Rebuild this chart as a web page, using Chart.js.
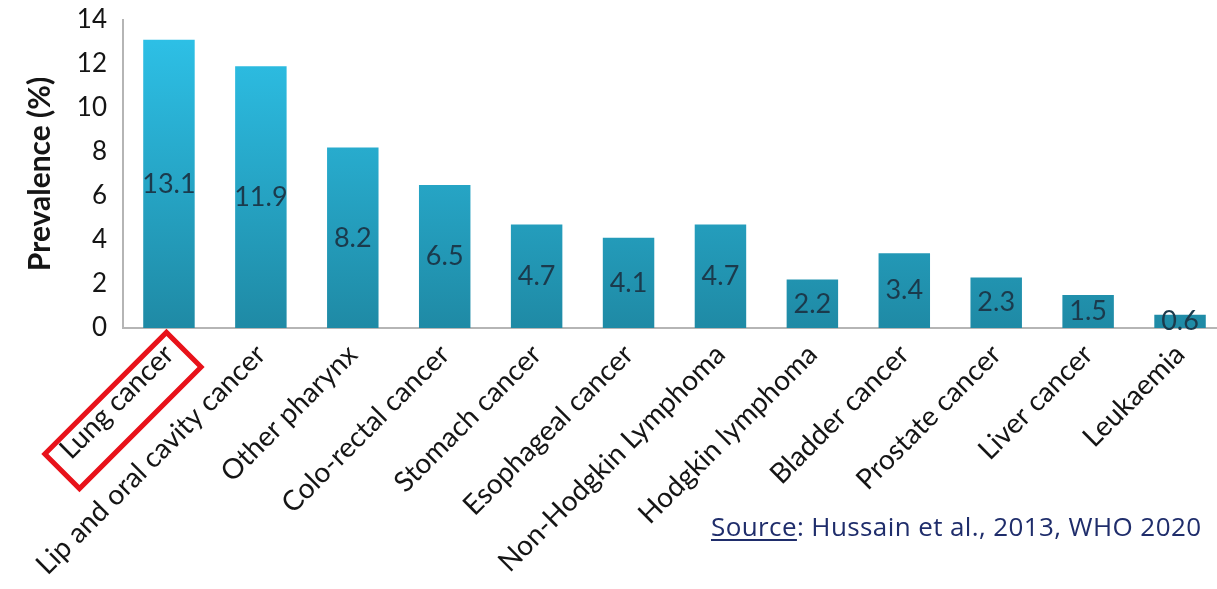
<!DOCTYPE html>
<html>
<head>
<meta charset="utf-8">
<script src="https://cdn.jsdelivr.net/npm/chart.js@4.4.1/dist/chart.umd.min.js"></script>
<style>
html,body{margin:0;padding:0;background:#fff;overflow:hidden;width:1217px;height:589px;}
#wrap{position:absolute;left:0;top:0;width:1226px;height:589px;}
#src{position:absolute;left:711px;top:508px;font-family:"Open Sans",sans-serif;font-size:26px;letter-spacing:0.4px;color:#1f2d6b;white-space:nowrap;}
#src u{text-decoration-thickness:1.5px;text-underline-offset:3px;}
</style>
</head>
<body>
<div id="wrap"><canvas id="c" width="1226" height="589"></canvas></div>
<div id="src"><u>Source</u>: Hussain et al., 2013, WHO 2020</div>
<script>
const categories = ["Lung cancer","Lip and oral cavity cancer","Other pharynx","Colo-rectal cancer","Stomach cancer","Esophageal cancer","Non-Hodgkin Lymphoma","Hodgkin lymphoma","Bladder cancer","Prostate cancer","Liver cancer","Leukaemia"];
const prevalence = [13.1,11.9,8.2,6.5,4.7,4.1,4.7,2.2,3.4,2.3,1.5,0.6];
const yTicks = [0,2,4,6,8,10,12,14];
const yTitle = "Prevalence (%)";

const ctx = document.getElementById('c').getContext('2d');

function barGradient(context){
  const chart = context.chart;
  const area = chart.chartArea;
  if(!area) return '#27aacd';
  const g = chart.ctx.createLinearGradient(0, area.top, 0, area.bottom);
  g.addColorStop(0, '#2ec3ea');
  g.addColorStop(1, '#1f8aa5');
  return g;
}

const valueLabels = {
  id:'valueLabels',
  afterDatasetsDraw(chart){
    const c = chart.ctx;
    const meta = chart.getDatasetMeta(0);
    const ys = chart.scales.y;
    c.save();
    c.font = '27px Lato, sans-serif';
    c.fillStyle = '#1b3a4c';
    c.textAlign = 'center';
    c.textBaseline = 'middle';
    meta.data.forEach((bar,i)=>{
      const v = prevalence[i];
      const y = ys.getPixelForValue(v/2);
      c.fillText(v.toFixed(1), bar.x, Math.min(y, ys.getPixelForValue(0)-4));
    });
    c.restore();
  }
};

const highlightBox = {
  id:'highlightBox',
  afterDraw(chart){
    const xs = chart.scales.x;
    const ys = chart.scales.y;
    const tx = xs.getPixelForTick(0);
    const ty = ys.getPixelForValue(0);
    const c = chart.ctx;
    c.save();
    c.translate(tx - 46, ty + 82.5);
    c.rotate(-45*Math.PI/180);
    c.strokeStyle = '#e8121a';
    c.lineWidth = 5;
    c.strokeRect(-86, -24.5, 172, 49);
    c.restore();
  }
};

new Chart(ctx, {
  type:'bar',
  data:{
    labels: categories,
    datasets:[{
      data: prevalence,
      backgroundColor: barGradient,
      borderWidth:0,
      barPercentage:0.56,
      categoryPercentage:1.0
    }]
  },
  options:{
    responsive:false,
    animation:false,
    devicePixelRatio:1,
    layout:{padding:{top:20,left:22,right:0,bottom:0}},
    plugins:{legend:{display:false},tooltip:{enabled:false}},
    scales:{
      x:{
        grid:{display:false, drawTicks:false},
        border:{display:true,color:'#b5b5b5',width:2},
        ticks:{
          color:'#151515',
          font:{family:'Lato, sans-serif',size:28},
          maxRotation:45,minRotation:45,
          padding:10,
          autoSkip:false
        },
        afterFit(s){ s.height = 261; s.paddingLeft = 0; s.paddingRight = 0; }
      },
      y:{
        min:0,max:14,
        afterBuildTicks(s){ s.ticks = yTicks.map(v=>({value:v})); },
        grid:{display:false, drawTicks:false},
        border:{display:true,color:'#b5b5b5',width:2},
        ticks:{
          color:'#151515',
          font:{family:'Lato, sans-serif',size:26},
          padding:16
        },
        title:{
          display:true,
          text:yTitle,
          color:'#151515',
          font:{family:'Lato, sans-serif',size:30,weight:'bold'},
          padding:{top:0,bottom:4}
        },
        afterFit(s){ s.width = 101; s.paddingTop = 0; s.paddingBottom = 0; }
      }
    }
  },
  plugins:[valueLabels, highlightBox]
});
</script>
</body>
</html>
